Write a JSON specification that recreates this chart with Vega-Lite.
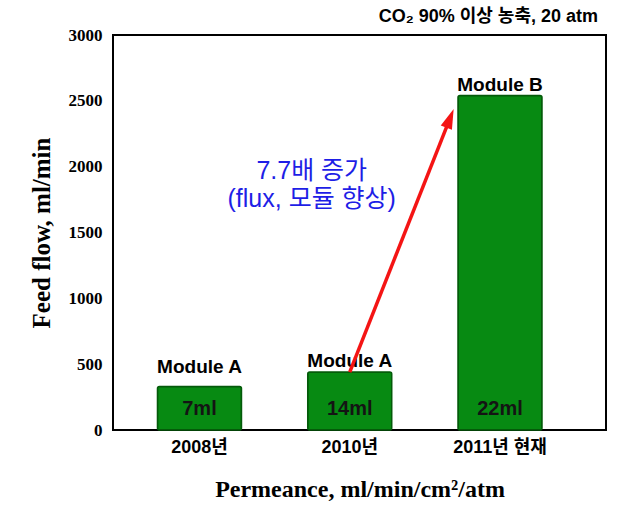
{
  "$schema": "https://vega.github.io/schema/vega-lite/v6.json",
  "width": 493,
  "height": 395,
  "autosize": {"type": "none"},
  "padding": {"left": 113, "top": 35, "right": 38, "bottom": 88},
  "background": "white",
  "title": {
    "text": "CO₂ 90% 이상 농축, 20 atm",
    "anchor": "end",
    "font": "Liberation Sans, Noto Sans CJK KR",
    "fontSize": 18,
    "fontWeight": "bold",
    "color": "black",
    "dx": -8,
    "offset": 0
  },
  "datasets": {
    "bars": [
      {"year": "2008년", "flow": 330, "module": "Module A", "area": "7ml"},
      {"year": "2010년", "flow": 440, "module": "Module A", "area": "14ml"},
      {"year": "2011년 현재", "flow": 2540, "module": "Module B", "area": "22ml"}
    ],
    "arrow": [
      {"from": "2010년", "to": "2011년 현재", "start": 440, "end": 2367}
    ],
    "note": [
      {"year": "2010년", "level": 1970, "text": ["7.7배 증가", "(flux, 모듈 향상)"]}
    ]
  },
  "config": {
    "view": {"stroke": "black", "strokeWidth": 2},
    "axis": {"grid": false, "ticks": false, "domain": false}
  },
  "layer": [
    {
      "data": {"name": "bars"},
      "mark": {"type": "bar", "fill": "#078a12", "stroke": "#045a0a", "strokeWidth": 1.5, "cornerRadius": 2},
      "encoding": {
        "x": {
          "field": "year", "type": "nominal", "sort": null,
          "scale": {"paddingInner": 0.441, "paddingOuter": 0.361, "align": 0.41},
          "axis": {
            "labelAngle": 0,
            "labelFont": "Liberation Sans, Noto Sans CJK KR",
            "labelFontSize": 18,
            "labelFontWeight": "bold",
            "labelColor": "black",
            "labelPadding": 8,
            "title": "Permeance, ml/min/cm²/atm",
            "titleFont": "Liberation Serif",
            "titleFontSize": 24,
            "titleFontWeight": "bold",
            "titleColor": "black",
            "titlePadding": 21
          }
        },
        "y": {
          "field": "flow", "type": "quantitative",
          "scale": {"domain": [0, 3000], "nice": false},
          "axis": {
            "values": [0, 500, 1000, 1500, 2000, 2500, 3000],
            "format": "d",
            "labelFont": "Liberation Serif",
            "labelFontSize": 17,
            "labelFontWeight": "bold",
            "labelColor": "black",
            "labelPadding": 11,
            "title": "Feed flow, ml/min",
            "titleFont": "Liberation Serif",
            "titleFontSize": 25,
            "titleFontWeight": "bold",
            "titleColor": "black",
            "titlePadding": 14
          }
        }
      }
    },
    {
      "data": {"name": "bars"},
      "transform": [{"filter": "datum.year !== '2008년'"}],
      "mark": {"type": "text", "baseline": "bottom", "dy": -1, "font": "Liberation Sans", "fontSize": 19, "fontWeight": "bold", "color": "black"},
      "encoding": {
        "x": {"field": "year", "type": "nominal", "sort": null},
        "y": {"field": "flow", "type": "quantitative"},
        "text": {"field": "module"}
      }
    },
    {
      "data": {"name": "bars"},
      "transform": [{"filter": "datum.year === '2008년'"}],
      "mark": {"type": "text", "baseline": "bottom", "dy": -10, "font": "Liberation Sans", "fontSize": 19, "fontWeight": "bold", "color": "black"},
      "encoding": {
        "x": {"field": "year", "type": "nominal", "sort": null},
        "y": {"field": "flow", "type": "quantitative"},
        "text": {"field": "module"}
      }
    },
    {
      "data": {"name": "bars"},
      "mark": {"type": "text", "baseline": "middle", "dy": -21, "font": "Liberation Sans", "fontSize": 20, "fontWeight": "bold", "color": "#141414"},
      "encoding": {
        "x": {"field": "year", "type": "nominal", "sort": null},
        "y": {"datum": 0, "type": "quantitative"},
        "text": {"field": "area"}
      }
    },
    {
      "data": {"name": "arrow"},
      "mark": {"type": "rule", "color": "#f41414", "strokeWidth": 3.5, "x2Offset": -50},
      "encoding": {
        "x": {"field": "from", "type": "nominal", "sort": null},
        "x2": {"field": "to"},
        "y": {"field": "start", "type": "quantitative"},
        "y2": {"field": "end"}
      }
    },
    {
      "data": {"name": "arrow"},
      "mark": {"type": "point", "shape": "M0,-1L0.6,1L-0.6,1Z", "filled": true, "fill": "#f41414", "color": "#f41414", "opacity": 1, "size": 400, "angle": 21.5, "xOffset": -50},
      "encoding": {
        "x": {"field": "to", "type": "nominal", "sort": null},
        "y": {"field": "end", "type": "quantitative"}
      }
    },
    {
      "data": {"name": "note"},
      "mark": {"type": "text", "align": "center", "baseline": "middle", "dx": -38, "lineHeight": 28, "font": "Liberation Sans, Noto Sans CJK KR", "fontSize": 25, "color": "#1e1ee6"},
      "encoding": {
        "x": {"field": "year", "type": "nominal", "sort": null},
        "y": {"field": "level", "type": "quantitative"},
        "text": {"field": "text"}
      }
    }
  ]
}
